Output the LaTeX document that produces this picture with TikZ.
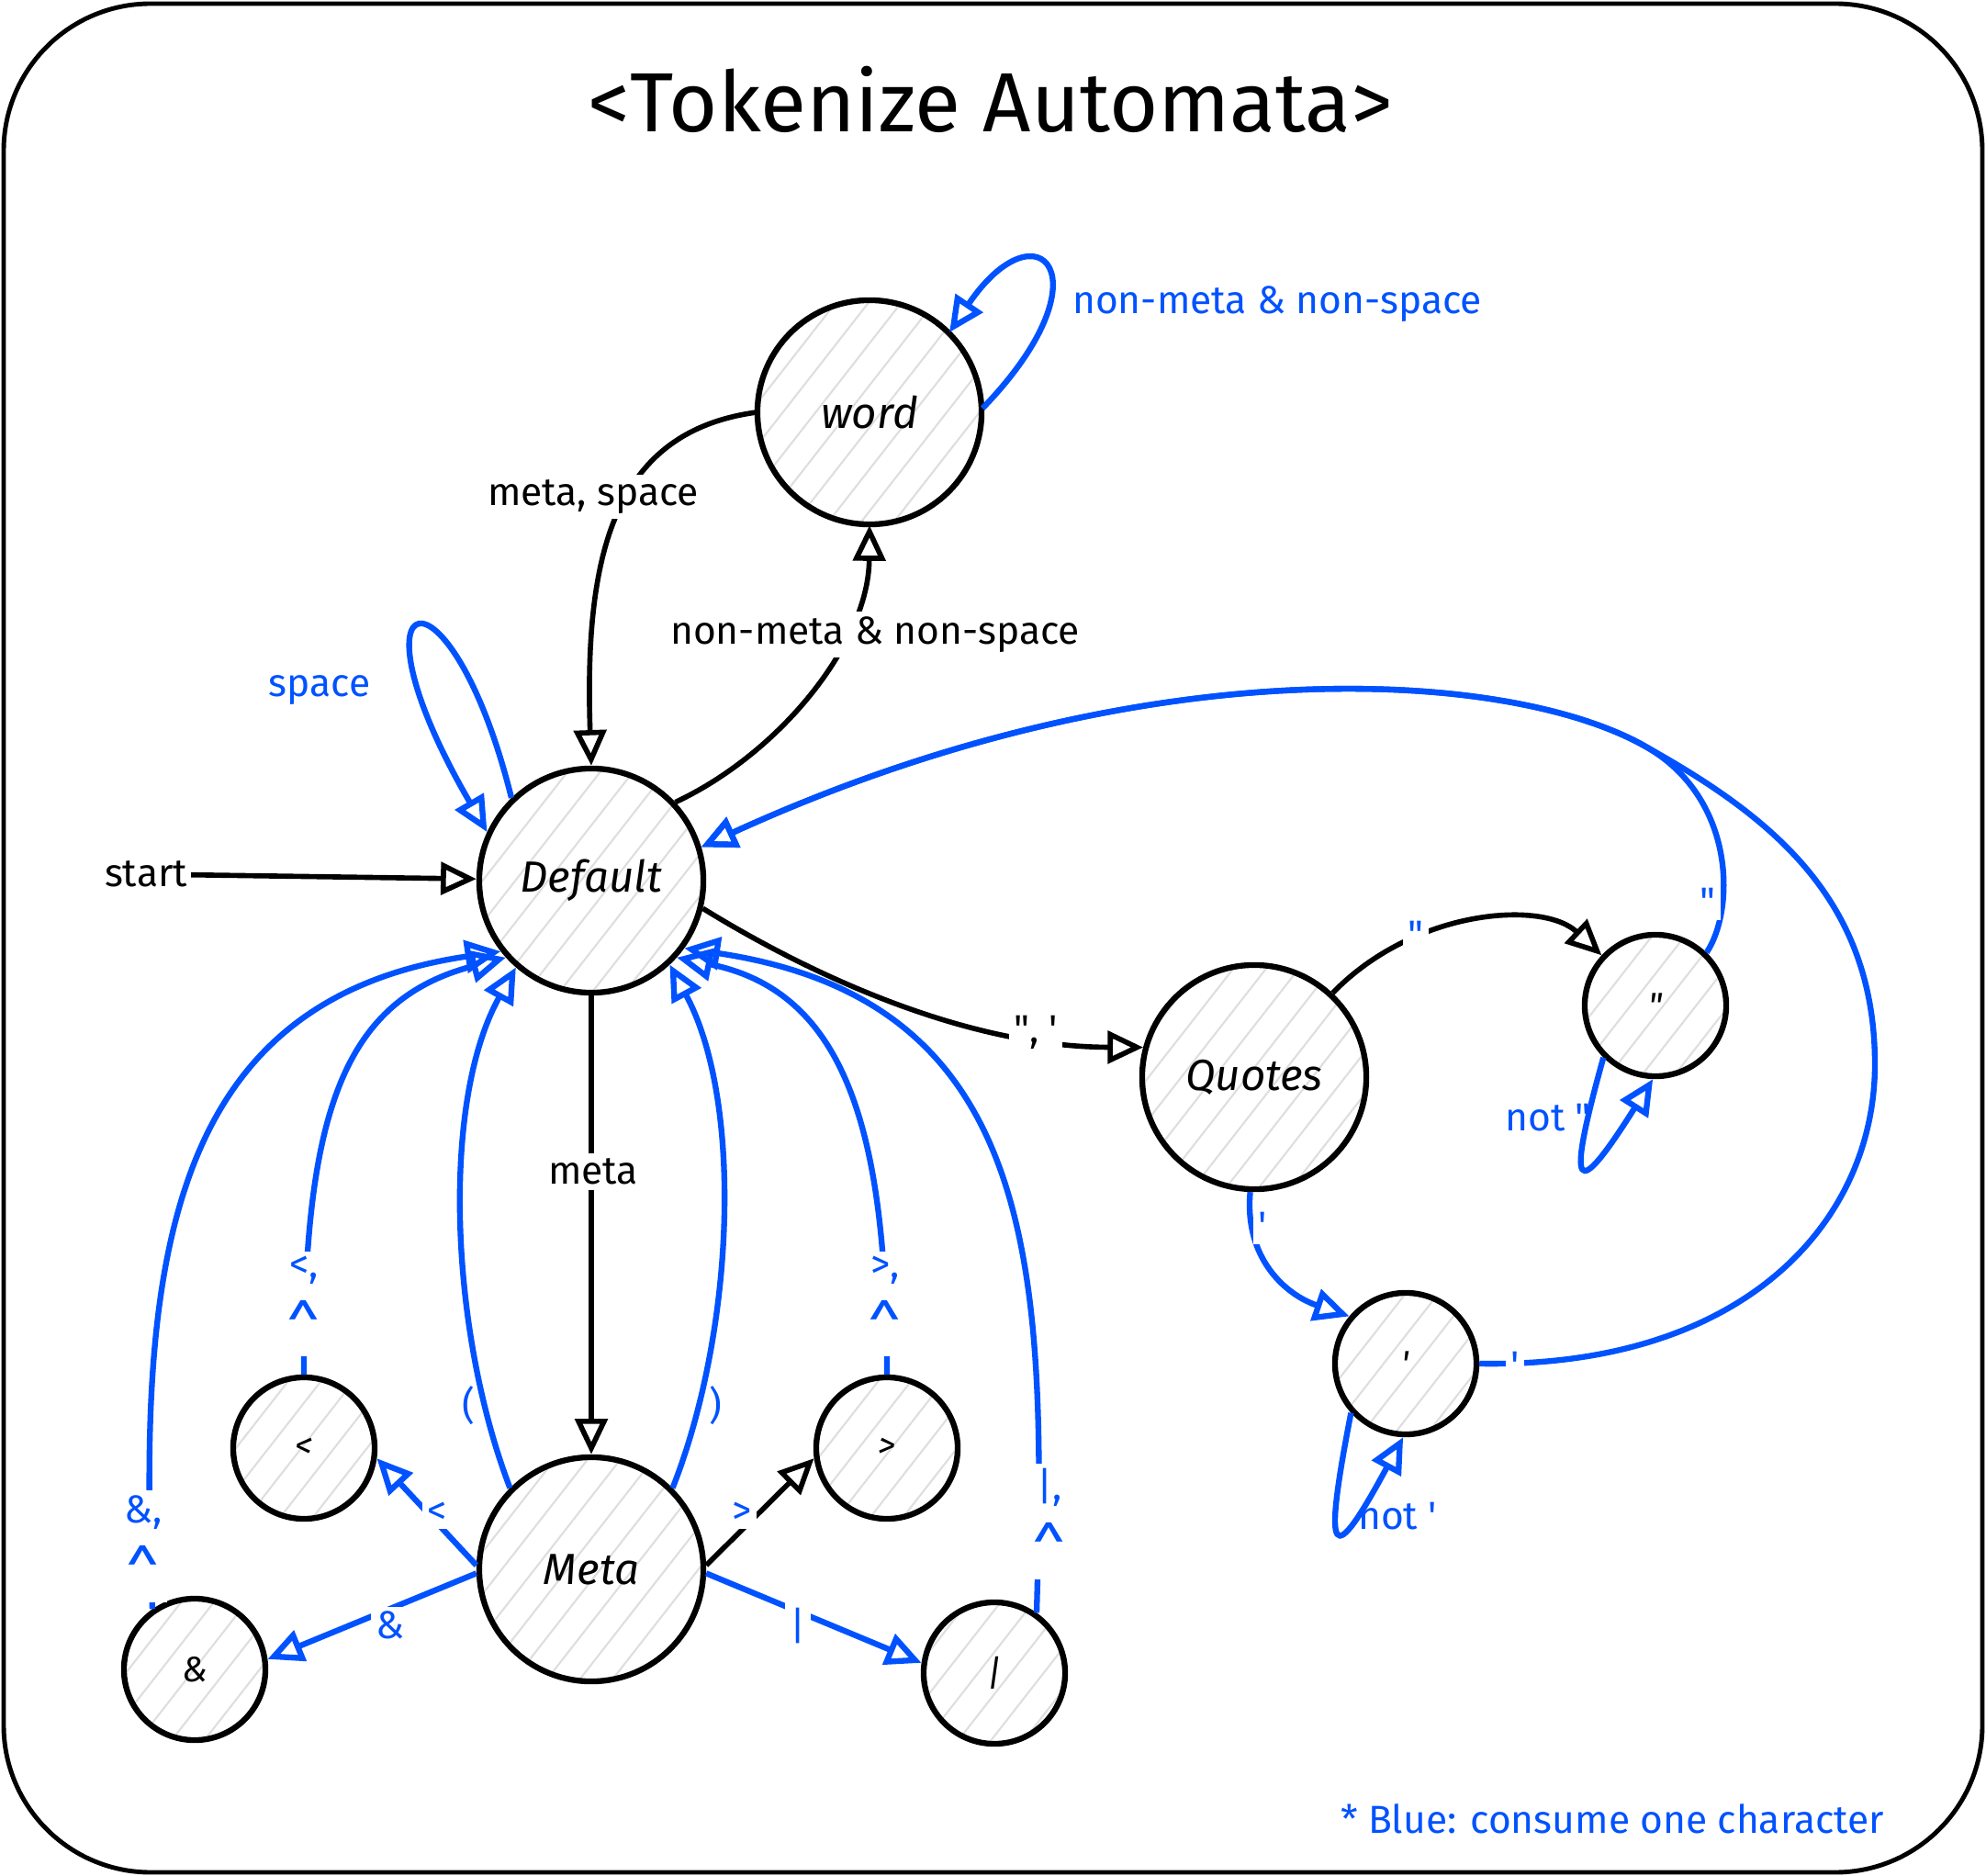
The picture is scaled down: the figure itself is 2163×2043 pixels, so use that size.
\documentclass[tikz,border=0pt]{standalone}
\usepackage{fontspec}
\setmainfont{Fira Sans}
\usetikzlibrary{arrows.meta, patterns.meta}
\definecolor{bl}{RGB}{0,82,255}
\newcommand{\crt}{{\fontsize{19}{13}\selectfont\raisebox{-0.7ex}{\textasciicircum}}}
\begin{document}
\begin{tikzpicture}[x=0.01cm, y=-0.01cm,
  st/.style={circle, draw=black, line width=1.8pt,
    pattern={Lines[angle=52, distance=8pt, line width=0.6pt]}, pattern color=black!13,
    inner sep=0pt, font=\fontsize{13.5}{16}\selectfont\itshape},
  big/.style={st, minimum size=2.44cm},
  small/.style={st, minimum size=1.54cm, font=\fontsize{11}{13}\selectfont\itshape},
  ed/.style={line width=1.6pt, -{Triangle[open, length=11pt, width=10pt]}},
  bed/.style={ed, draw=bl, line width=1.8pt},
  lbl/.style={fill=white, inner sep=1.5pt, font=\fontsize{12.1}{13}\selectfont, align=center},
  blbl/.style={lbl, text=bl},
]
\useasboundingbox (0,0) rectangle (2163,2043);
\draw[line width=1.4pt, rounded corners=1.6cm] (4,4) rectangle (2159,2039);

\node[font=\fontsize{26}{30}\selectfont] (title) at (1079,108) {<Tokenize Automata>};

% states
\node[big] (word) at (947,449) {word};
\node[big] (def) at (644,959) {Default};
\node[big] (meta) at (644,1709) {Meta};
\node[big] (quo) at (1366,1173) {Quotes};
\node[small] (dq) at (1803,1095) {\textquotedbl};
\node[small] (sq) at (1531,1485) {\textquotesingle};
\node[small] (lt) at (331,1577) {<};
\node[small] (gt) at (966,1577) {>};
\node[small] (amp) at (212,1818) {\&};
\node[small] (bar) at (1083,1822) {|};

\node[inner sep=1pt, font=\fontsize{12.1}{15}\selectfont] (start) at (159,952) {start};

% edges
\draw[ed] (start) -- (def);
\draw[ed] (def.43) .. controls (850,820) and (946,700) .. (word.south);
\draw[ed] (word.west) .. controls (670,470) and (636,600) .. (def.north);
\draw[bed] (word.2) .. controls (1210,300) and (1130,220) .. (word.45);
\draw[bed] (def.134) .. controls (490,600) and (370,630) .. (def.155);
\draw[ed] (def.-14) .. controls (880,1060) and (1050,1140) .. (quo.165);
\draw[ed] (def) -- (meta);
\draw[bed] (meta.178) -- (lt.-8);
\draw[ed] (meta.2) -- (gt.188);
\draw[bed] (meta.182) -- (amp.8);
\draw[bed] (meta.-2) -- (bar.172);
\draw[bed] (meta.135) .. controls (490,1450) and (480,1200) .. (def.-131);
\draw[bed] (meta.45) .. controls (800,1450) and (810,1200) .. (def.-47);
\draw[bed] (lt.north) .. controls (331,1220) and (370,1090) .. (def.-138);
\draw[bed] (gt.north) .. controls (966,1230) and (920,1080) .. (def.-42);
\draw[bed] (amp.125) .. controls (150,1380) and (180,1090) .. (def.-142);
\draw[bed] (bar.55) .. controls (1140,1380) and (1130,1090) .. (def.-36);

\draw[ed] (quo.47) .. controls (1540,990) and (1680,980) .. (dq.137);
\draw[bed] (dq.-135) .. controls (1705,1300) and (1715,1310) .. (dq.-92);
\coordinate (A) at (1794,814);
\coordinate (B) at (2042,1159);
\draw[bed] (dq.46) .. controls (1890,990) and (1890,870) .. (A) .. controls (1650,730) and (1250,700) .. (def.17);
\draw[bed] (quo.-92) .. controls (1355,1370) and (1400,1410) .. (sq.140);
\draw[bed] (sq.-138) .. controls (1440,1700) and (1450,1710) .. (sq.-92);
\draw[bed] (sq.0) .. controls (1900,1490) and (2042,1330) .. (B) .. controls (2042,980) and (1930,890) .. (A) .. controls (1650,730) and (1250,700) .. (def.17);

% labels
\node[lbl] (l1) at (953,691) {non-meta \& non-space};
\node[lbl] (l2) at (646,541) {meta, space};
\node[blbl, fill=none] (l3) at (1391,331) {non-meta \& non-space};
\node[blbl, fill=none] (l4) at (348,752) {space};
\node[lbl] (l5) at (646,1276) {meta};
\node[lbl] (l6) at (1128,1124) {\textquotedbl, \textquotesingle};
\node[blbl] (l7) at (1542,1018) {\textquotedbl};
\node[blbl] (l8) at (1860,982) {\textquotedbl};
\node[blbl, fill=none] (l9) at (1686,1217) {not \textquotedbl};
\node[blbl] (l10) at (1375,1335) {\textquotesingle};
\node[blbl] (l11) at (1650,1487) {\textquotesingle};
\node[blbl, fill=none] (l12) at (1522,1651) {not \textquotesingle};
\node[blbl] (l13) at (331,1420) {<,\\[3pt]\crt};
\node[blbl] (l14) at (964,1420) {>,\\[3pt]\crt};
\node[blbl] (l15) at (156,1684) {\&,\\[3pt]\crt};
\node[blbl] (l16) at (1143,1657) {|,\\[3pt]\crt};
\node[blbl, fill=none] (l17) at (510,1531) {(};
\node[blbl, fill=none] (l18) at (779,1531) {)};
\node[blbl] (l19) at (476,1648) {<};
\node[blbl] (l20) at (808,1648) {>};
\node[blbl] (l21) at (425,1770) {\&};
\node[blbl] (l22) at (869,1770) {|};
\node[text=bl, font=\fontsize{12.1}{15}\selectfont] (legend) at (1756,1981) {* Blue: consume one character};
\end{tikzpicture}
\end{document}
